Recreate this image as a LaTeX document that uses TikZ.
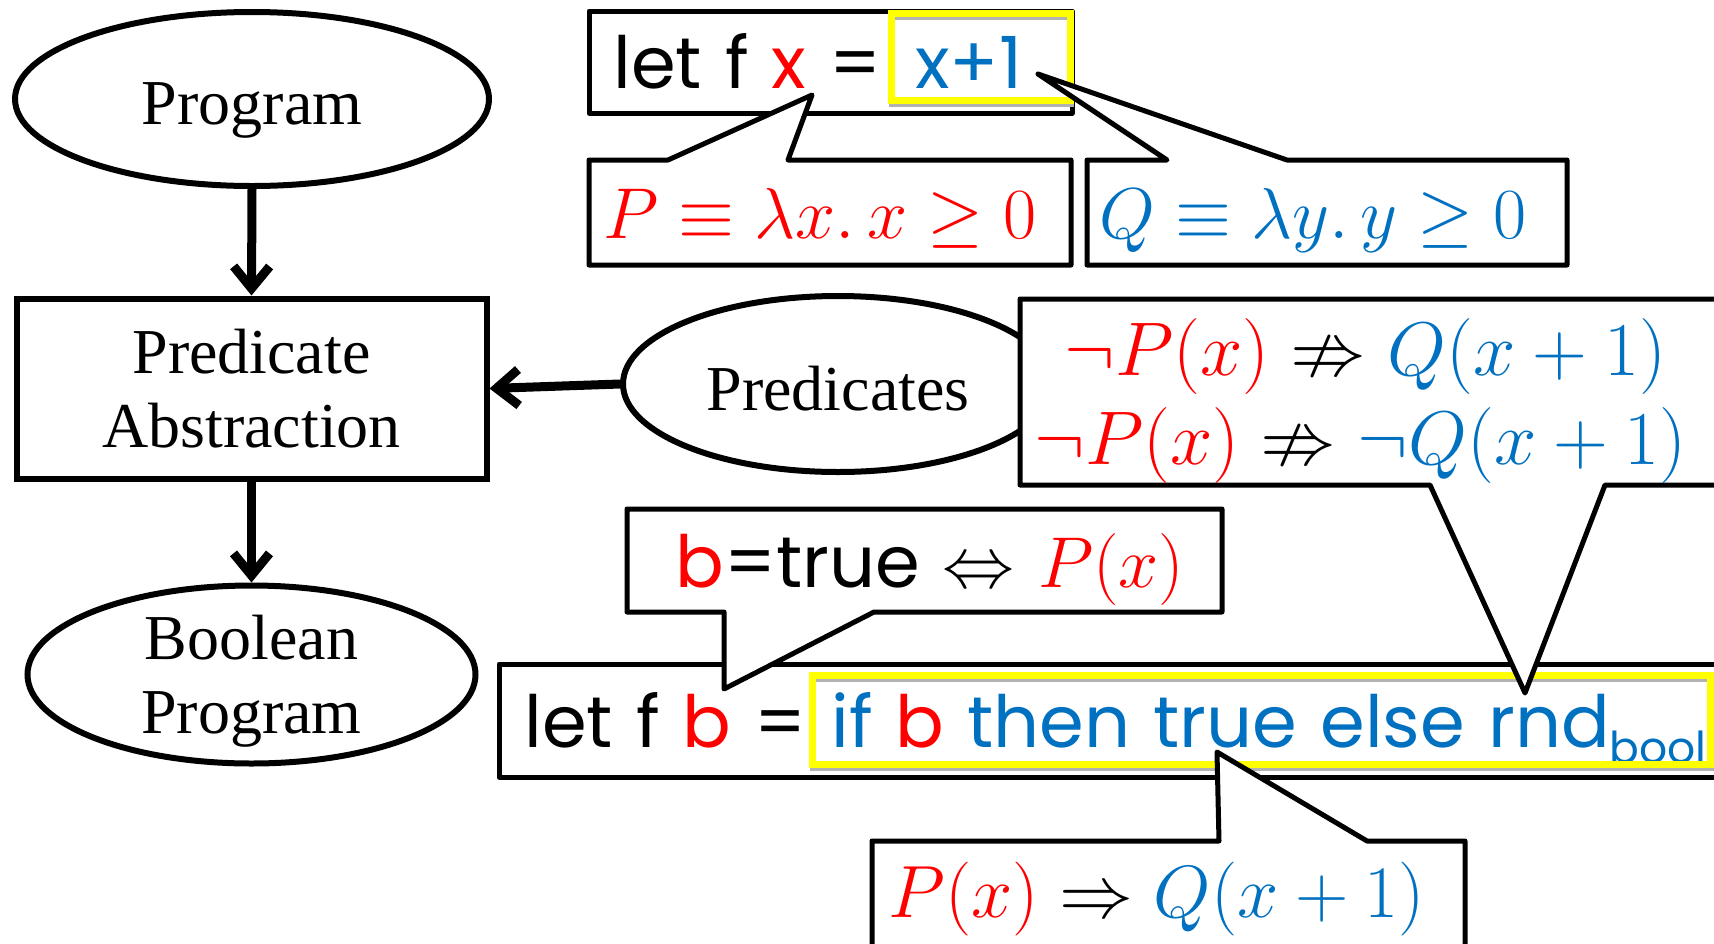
\documentclass[tikz,border=0pt]{standalone}
\usepackage{fix-cm}
\usepackage{amsmath,amssymb}
\DeclareFontFamily{U}{msa}{}
\DeclareFontShape{U}{msa}{m}{n}{<-6> msam5 <6-8> msam7 <8-> msam10}{}
\DeclareFontFamily{U}{msb}{}
\DeclareFontShape{U}{msb}{m}{n}{<-6> msbm5 <6-8> msbm7 <8-> msbm10}{}
\usepackage{fontspec}
\setmainfont{Liberation Serif}
\newfontfamily\comicfam[WordSpace=1.2]{Poppins}
\usetikzlibrary{shapes.geometric,arrows.meta}
\definecolor{myred}{RGB}{255,0,0}
\definecolor{myblue}{RGB}{0,112,192}
\definecolor{myyellow}{RGB}{255,255,0}
\newcommand\myserif{\fontsize{32}{37}\selectfont}
\newcommand\mymath{\fontsize{36}{40}\selectfont}
\newcommand\mymathD{\fontsize{38}{42}\selectfont}
\newcommand\mymathG{\fontsize{37}{41}\selectfont}
\newcommand\mycomic{\comicfam\fontsize{36}{40}\selectfont}
\begin{document}
\begin{tikzpicture}[x=0.5pt,y=-0.5pt,
  box/.style={draw=black,line width=2.5pt,fill=white,line join=round},
  ell/.style={draw,ellipse,line width=3pt,inner sep=0pt},
  rbox/.style={draw,rectangle,line width=3pt,inner sep=0pt,font=\myserif,align=center},
  txt/.style={font=\myserif,anchor=base,inner sep=0pt},
  lbl/.style={anchor=base west,inner sep=0pt},
  arr/.style={line width=4.5pt,-{Straight Barb[length=11pt,width=18pt]}},
  hl/.style={draw=myyellow,line width=3.5pt},
  hlshadow/.style={draw=black!30,line width=3pt}]
\useasboundingbox (0,0) rectangle (1714,943);
\clip (0,0) rectangle (1714,943);
\fill[white] (0,0) rectangle (1714,943);

% left flow
\node[ell,minimum width=237pt,minimum height=87pt] (prog) at (252,99) {};
\node[txt] (progt) at (252,124) {Program};
\node[rbox,minimum width=235pt,minimum height=90pt] (pa) at (251.5,388.5) {Predicate\\Abstraction};
\node[ell,minimum width=224pt,minimum height=89pt] (bp) at (251.5,674.5) {};
\node[font=\myserif,align=center,inner sep=0pt] (bpt) at (251.5,681) {Boolean\\Program};
\node[ell,minimum width=215pt,minimum height=88pt] (pred) at (838,384) {};
\node[txt] (predt) at (838,410) {Predicates};
\draw[arr] (prog.south) -- (pa.north);
\draw[arr] (pa.south) -- (bp.north);
\draw[arr] (pred.west) -- (pa.east);

% box A
\draw[box] (589,11) rectangle (1072,113);
\node[lbl,font=\mycomic] (tA1) at (613,88) {let f \textcolor{myred}{x} =};
\node[lbl,font=\mycomic,text=myblue] (tA2) at (915,88) {x+1};
\draw[hlshadow] (891.5,17) rectangle (1070.5,104);
\draw[hl] (891.5,13.5) rectangle (1070.5,100.5);

% box C
\draw[box] (1087,160) -- (1167,160) -- (1038,74) -- (1287,160) -- (1567,160) -- (1567,265) -- (1087,265) -- cycle;
\node[lbl,font=\mymath,text=myblue] (tC) at (1099,238) {$Q\equiv\lambda y.\,y\geq 0$};

% box B
\draw[box] (589,160) -- (668,160) -- (812,95) -- (788,160) -- (1071,160) -- (1071,265) -- (589,265) -- cycle;
\node[lbl,font=\mymath,text=myred] (tB) at (603,238) {$P\equiv\lambda x.\,x\geq 0$};

% box F
\draw[box] (499,664) rectangle (1730,777);
\node[lbl,font=\mycomic] (tF1) at (524,747) {let f \textcolor{myred}{b} =};
\node[lbl,font=\mycomic,text=myblue] (tF2) at (831,747) {if \textcolor{myred}{b} then true else rnd\raisebox{-8pt}{\fontsize{22}{24}\selectfont bool}};
\draw[hlshadow] (812.5,679) rectangle (1710.5,768);
\draw[hl] (812.5,675.5) rectangle (1710.5,764.5);

% box D
\draw[box] (1020,299) -- (1730,299) -- (1730,485) -- (1605,485) -- (1525,693) -- (1430,485) -- (1020,485) -- cycle;
\node[lbl,font=\mymathD] (tD1) at (1064,375) {$\textcolor{myred}{\neg P(x)}\nRightarrow\textcolor{myblue}{Q(x+1)}$};
\node[lbl,font=\mymathD] (tD2) at (1034,464) {$\textcolor{myred}{\neg P(x)}\nRightarrow\textcolor{myblue}{\neg Q(x+1)}$};

% box E
\draw[box] (627,509) -- (1222,509) -- (1222,612) -- (874,612) -- (724,689) -- (724,612) -- (627,612) -- cycle;
\node[lbl,font=\mycomic] (tE) at (675,587) {\textcolor{myred}{b}=true $\Leftrightarrow$ $\textcolor{myred}{P(x)}$};

% box G
\draw[box] (872,841) -- (1219,841) -- (1217,752) -- (1367,841) -- (1465,841) -- (1465,960) -- (872,960) -- cycle;
\node[lbl,font=\mymathG] (tG) at (888,917) {$\textcolor{myred}{P(x)}\Rightarrow\textcolor{myblue}{Q(x+1)}$};
\end{tikzpicture}
\end{document}
